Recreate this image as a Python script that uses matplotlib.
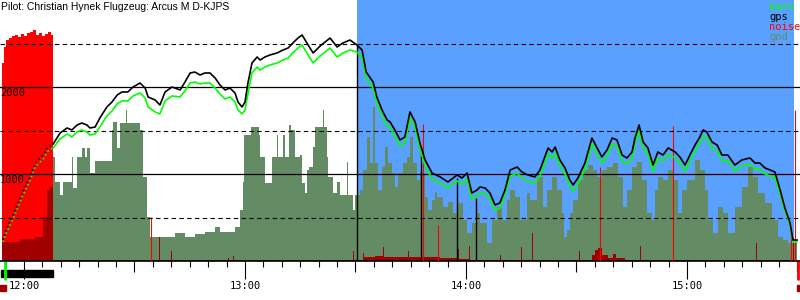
import matplotlib
matplotlib.use('Agg')
import matplotlib.pyplot as plt
from matplotlib.patches import Rectangle

# Zeit in Minuten nach 12:00, Hoehen in Metern
zeit = [-5.7, -4.9, -2.4, -0.5, 1.6, 3.0, 5.2, 6.5, 7.9, 9.8,
        11.7, 13.0, 14.4, 15.7, 17.1, 17.9, 19.3, 20.6, 22.5, 23.9,
        25.3, 26.6, 28.2, 29.6, 31.5, 32.9, 33.7, 35.6, 36.9, 38.3,
        40.2, 42.4, 43.7, 45.1, 46.4, 47.8, 49.1, 50.5, 51.9, 53.2,
        54.6, 55.9, 57.3, 58.1, 59.2, 60.0, 60.8, 61.9, 63.3, 64.1,
        65.4, 66.8, 68.7, 70.3, 71.7, 73.0, 74.4, 75.5, 76.8, 78.5,
        80.4, 83.1, 85.0, 86.6, 88.5, 90.4, 91.8, 92.9, 94.8, 95.8,
        97.2, 98.6, 99.4, 100.7, 102.1, 103.4, 104.8, 106.2, 107.5, 108.9,
        110.8, 113.0, 115.1, 117.6, 118.9, 120.3, 121.6, 123.0, 123.8, 125.2,
        126.5, 127.9, 129.2, 130.6, 132.0, 133.9, 135.2, 136.8, 138.7, 140.1,
        142.3, 143.4, 144.2, 145.5, 146.9, 148.2, 149.1, 150.4, 152.3, 154.2,
        155.6, 156.9, 158.3, 159.7, 161.0, 162.4, 163.7, 165.1, 165.9, 167.0,
        168.1, 169.4, 170.8, 172.1, 173.5, 174.9, 176.8, 178.1, 179.5, 180.8,
        182.2, 183.5, 184.4, 185.4, 186.8, 188.2, 189.5, 191.1, 193.0, 194.9,
        197.1, 198.5, 199.8, 201.2, 202.6, 203.9, 205.3, 206.6, 208.0, 208.8, 209.9]

gps = [241, 356, 586, 782, 966, 1126, 1218, 1310, 1345, 1471,
       1529, 1506, 1563, 1586, 1563, 1529, 1540, 1644, 1770, 1828,
       1908, 1943, 1943, 2000, 2046, 1988, 1885, 1851, 1793, 1943,
       2000, 1966, 2057, 2161, 2172, 2138, 2161, 2161, 2103, 2023,
       1966, 1988, 1931, 1828, 1770, 1828, 2046, 2276, 2345, 2310,
       2345, 2368, 2391, 2425, 2448, 2506, 2563, 2598, 2506, 2391,
       2471, 2563, 2460, 2506, 2540, 2483, 2425, 2172, 2057, 1885,
       1736, 1621, 1598, 1506, 1391, 1425, 1713, 1598, 1356, 1161,
       1011, 966, 908, 989, 954, 1011, 782, 816, 851, 839,
       782, 644, 667, 816, 1046, 1080, 1023, 989, 966, 1046,
       1299, 1253, 1310, 1161, 1069, 931, 874, 954, 1126, 1414,
       1299, 1195, 1276, 1414, 1391, 1218, 1184, 1253, 1414, 1563,
       1368, 1299, 1103, 1253, 1218, 1299, 1253, 1195, 1103, 1218,
       1333, 1425, 1506, 1483, 1368, 1333, 1218, 1218, 1103, 1161,
       1184, 1126, 1126, 1069, 1046, 1023, 816, 609, 437, 241, 241]

baro = [218, 310, 540, 736, 920, 1080, 1172, 1264, 1299, 1402,
        1460, 1426, 1483, 1506, 1483, 1449, 1460, 1541, 1667, 1725,
        1805, 1840, 1840, 1897, 1931, 1873, 1770, 1713, 1690, 1840,
        1897, 1885, 1954, 2046, 2057, 2035, 2046, 2046, 1988, 1920,
        1862, 1885, 1828, 1736, 1690, 1736, 1920, 2161, 2230, 2195,
        2230, 2253, 2276, 2310, 2333, 2391, 2448, 2483, 2391, 2276,
        2356, 2448, 2345, 2391, 2425, 2402, 2345, 2103, 1988, 1816,
        1667, 1552, 1529, 1437, 1322, 1356, 1644, 1529, 1287, 1092,
        942, 897, 839, 920, 885, 942, 713, 747, 782, 770,
        713, 586, 609, 759, 977, 1011, 954, 920, 897, 977,
        1230, 1184, 1241, 1092, 1000, 862, 805, 885, 1057, 1345,
        1230, 1126, 1207, 1345, 1322, 1149, 1115, 1184, 1345, 1494,
        1299, 1230, 1034, 1184, 1149, 1230, 1184, 1126, 1034, 1149,
        1264, 1356, 1437, 1414, 1299, 1264, 1149, 1149, 1034, 1092,
        1115, 1057, 1057, 1000, 977, 966, 770, 575, 414, 218, 218]

# Gelaende unter dem Flugweg (Stufen)
gnd_zeit = [-6.0, 7.9, 8.4, 9.8, 10.6, 13.0, 13.3, 14.4, 15.7, 16.6,
            17.1, 17.9, 19.3, 23.9, 24.2, 25.3, 26.1, 27.7, 28.0, 31.5,
            32.3, 33.4, 34.2, 41.0, 43.7, 46.4, 49.1, 51.9, 53.2, 57.3,
            58.6, 59.5, 59.7, 61.6, 63.8, 64.1, 65.4, 67.3, 68.7, 69.0,
            70.3, 70.9, 72.0, 72.5, 73.6, 74.9, 75.5, 76.3, 76.8, 77.4,
            78.5, 79.0, 81.2, 81.5, 82.3, 82.5, 83.9, 85.0, 85.8, 87.7,
            88.0, 89.3, 89.9, 91.2, 92.0, 93.1, 93.9, 94.8, 95.3, 96.1,
            97.2, 98.0, 98.8, 99.9, 100.7, 101.5, 102.9, 104.0, 104.8, 105.6,
            106.7, 107.5, 108.9, 109.7, 110.8, 111.6, 112.1, 113.8, 115.1, 116.5,
            117.8, 119.2, 120.3, 121.6, 123.0, 123.8, 125.7, 127.1, 128.4, 129.8,
            131.1, 132.0, 133.3, 134.7, 136.6, 137.4, 139.3, 140.9, 142.0, 143.4,
            144.7, 146.0, 146.6, 147.4, 148.2, 149.1, 150.4, 151.8, 153.1, 154.5,
            155.6, 156.9, 158.3, 159.9, 161.3, 162.6, 163.7, 165.1, 166.4, 167.8,
            169.2, 170.5, 171.3, 172.1, 173.5, 174.9, 176.2, 177.6, 178.7, 180.0,
            182.2, 183.5, 184.9, 185.7, 187.1, 188.4, 189.8, 191.1, 193.0, 194.9,
            196.6, 197.9, 199.3, 201.2, 203.1, 204.7, 206.1, 207.4, 209.9]

gnd = [240, 1195, 908, 759, 908, 1195, 839, 1195, 1299, 1195,
       1299, 1011, 1149, 1506, 1598, 1299, 1586, 1736, 1586, 1506,
       966, 506, 276, 322, 276, 310, 333, 391, 333, 391,
       586, 908, 1448, 1540, 1448, 1195, 897, 1195, 1448, 1195,
       1448, 1195, 1563, 1506, 1195, 1218, 897, 782, 1046, 1080,
       1310, 1540, 1736, 1540, 1195, 966, 782, 908, 759, 1138,
       759, 586, 759, 816, 1046, 1425, 1126, 1770, 1126, 816,
       1080, 1310, 1126, 1011, 851, 1011, 1126, 1195, 1425, 1126,
       931, 1011, 736, 586, 701, 793, 736, 621, 678, 552,
       667, 471, 322, 437, 552, 437, 207, 471, 621, 471,
       701, 816, 736, 471, 782, 701, 966, 621, 816, 966,
       816, 552, 276, 356, 552, 701, 931, 1046, 1103, 1046,
       966, 1046, 1080, 1126, 966, 621, 816, 1080, 1138, 931,
       552, 471, 816, 966, 931, 1046, 931, 552, 816, 931,
       1161, 1046, 816, 471, 322, 621, 552, 322, 621, 851,
       1080, 966, 782, 667, 471, 276, 241, 207, 207]

# Motorlaerm (Motorlauf am Anfang)
motor_zeit = [-6.0, -5.4, -4.9, -4.1, -3.3, -2.4, -1.6, -0.8, 0.0, 0.8,
              1.6, 2.4, 3.3, 4.1, 4.9, 5.7, 6.5, 7.3, 7.9]
motor_noise = [2276, 2460, 2540, 2563, 2586, 2598, 2575, 2609, 2586, 2621,
               2632, 2655, 2598, 2621, 2586, 2609, 2632, 2598, 2586]

# Geraeuschpegel ueber den Flug
noise_zeit = [-6.0, -1.1, 3.0, 5.2, 6.2, 7.1, 7.9, 36.7, 36.9, 39.9,
              40.2, 55.4, 55.7, 56.7, 57.0, 89.3, 89.6, 92.0, 92.3, 95.3,
              97.5, 97.7, 102.1, 104.3, 104.5, 108.9, 113.0, 117.8, 118.1, 120.8,
              121.1, 129.2, 129.5, 134.9, 135.2, 137.9, 138.2, 145.5, 150.7, 151.0,
              154.2, 155.0, 155.9, 156.9, 158.6, 159.9, 160.7, 163.2, 167.3, 167.5,
              198.8, 199.0, 208.8, 209.1, 209.9]
noise = [218, 253, 276, 506, 816, 851, 12, 276, 12, 115,
         12, 34, 12, 57, 12, 115, 12, 92, 46, 57,
         161, 46, 46, 115, 46, 46, 29, 138, 23, 172,
         12, 69, 12, 161, 12, 322, 12, 12, 115, 12,
         69, 126, 149, 69, 35, 80, 35, 12, 172, 12,
         207, 12, 207, 12, 12]

spike_zeit = [34.5, 108.3, 112.4, 156.4, 176.2, 208.3, 209.3]
spike_noise = [506, 1575, 414, 1080, 1552, 391, 1736]

# senkrechte Markierungen (Hoehe beim Ereignis)
marker_zeit = [90.4, 107.8, 117.6, 122.7]
marker_hoehe = [2483, 1241, 954, 724]

start_zeit = -5.2
lande_zeit = 210.1
motor_von, motor_bis = -6.2, 7.9
task_von, task_bis = 90.4, 209.1

stunden = [0, 60, 120, 180]
stunden_labels = ['12:00', '13:00', '14:00', '15:00']
hoehen_labels = [1000, 2000]
titel = 'Pilot: Christian Hynek Flugzeug: Arcus M D-KJPS'

MONO = 'DejaVu Sans Mono'

fig = plt.figure(figsize=(8, 3), dpi=100)
ax = fig.add_axes([0, 39 / 300, 1, 261 / 300])
ax.set_xlim(-6.52, 210.7)
ax.set_ylim(0, 3000)
ax.set_xticks([])
ax.set_yticks([])
for s in ['top', 'left', 'right']:
    ax.spines[s].set_visible(False)
ax.spines['bottom'].set_linewidth(1.2)

ax.axvspan(task_von, task_bis, color='#5aa0ff', lw=0, zorder=0)
ax.fill_between(gnd_zeit, gnd, step='post', color='#648c64', lw=0, zorder=1)
ax.fill_between(motor_zeit, motor_noise, step='post', color='#ff0000', lw=0, zorder=2)
ax.fill_between(noise_zeit, noise, step='post', color='#a00000', lw=0, zorder=2.5)
ax.vlines(spike_zeit, 0, spike_noise, color='#ff0000', lw=0.8, zorder=2.6)

# Hoehenlinien
for h in [500, 1500, 2500]:
    ax.axhline(h, color='black', lw=0.8, ls=(0, (4, 3)), zorder=3)
for h in [1000, 2000]:
    ax.axhline(h, color='black', lw=0.9, zorder=3)

ax.vlines(marker_zeit, 0, marker_hoehe, color='black', lw=1.0, zorder=3.5)

# Steigflug unter Motor gepunktet, danach durchgezogen
k = sum(1 for t in zeit if t <= motor_bis)
ax.plot(zeit[:k], baro[:k], color='#00ff00', lw=1.2, ls=':', zorder=4)
ax.plot(zeit[k - 1:], baro[k - 1:], color='#00ff00', lw=1.2, zorder=4)
ax.plot(zeit[:k], gps[:k], color='black', lw=1.2, ls=':', zorder=5)
ax.plot(zeit[k - 1:], gps[k - 1:], color='black', lw=1.2, zorder=5)

# Hoehenbeschriftung
ytr = ax.get_yaxis_transform()
for h in hoehen_labels:
    ax.text(0.0, h - 15, str(h), transform=ytr, va='top', ha='left',
            family=MONO, fontsize=7.5, zorder=6)

# Zeitachse
xtr = ax.get_xaxis_transform()
px = 1 / 261
for m in range(-5, 211, 5):
    if m % 60 == 0:
        laenge = 18
    elif m % 30 == 0:
        laenge = 11
    else:
        laenge = 6
    ax.vlines(m, -laenge * px, 0, transform=xtr, color='black', lw=0.8, clip_on=False)
for m, lab in zip(stunden, stunden_labels):
    ax.text(m, -25 * px, lab, transform=xtr, ha='center', va='center',
            family=MONO, fontsize=7.5, clip_on=False)

# Motorlauf-Balken, Start und Landung
ax.add_patch(Rectangle((motor_von, -16 * px), motor_bis - motor_von, 7 * px,
                       transform=xtr, color='black', clip_on=False))
ax.vlines(start_zeit, -19 * px, 0, transform=xtr, color='#00ff00', lw=2, clip_on=False)
ax.vlines(lande_zeit, -19 * px, 0, transform=xtr, color='#ff0000', lw=2, clip_on=False)
ax.add_patch(Rectangle((-6.52, -30 * px), 1.6, 6 * px, transform=xtr,
                       color='#a00000', clip_on=False))
ax.add_patch(Rectangle((209.9, -30 * px), 1.0, 6 * px, transform=xtr,
                       color='#a00000', clip_on=False))

# Titel und Legende
ax.text(0.001, 1 - 2 * px, titel, transform=ax.transAxes, va='top', ha='left',
        family='Liberation Sans', fontsize=7.5, zorder=6)
legende = [('baro', '#00ff00'), ('gps', 'black'), ('noise', '#ff0000'), ('gnd', '#648c64')]
for i, (name, farbe) in enumerate(legende):
    ax.text(769 / 800, 1 - (7 + 10 * i) * px, name, transform=ax.transAxes,
            va='center', ha='left', family=MONO, fontsize=7.5, color=farbe, zorder=6)

fig.savefig('out.png', dpi=100)
